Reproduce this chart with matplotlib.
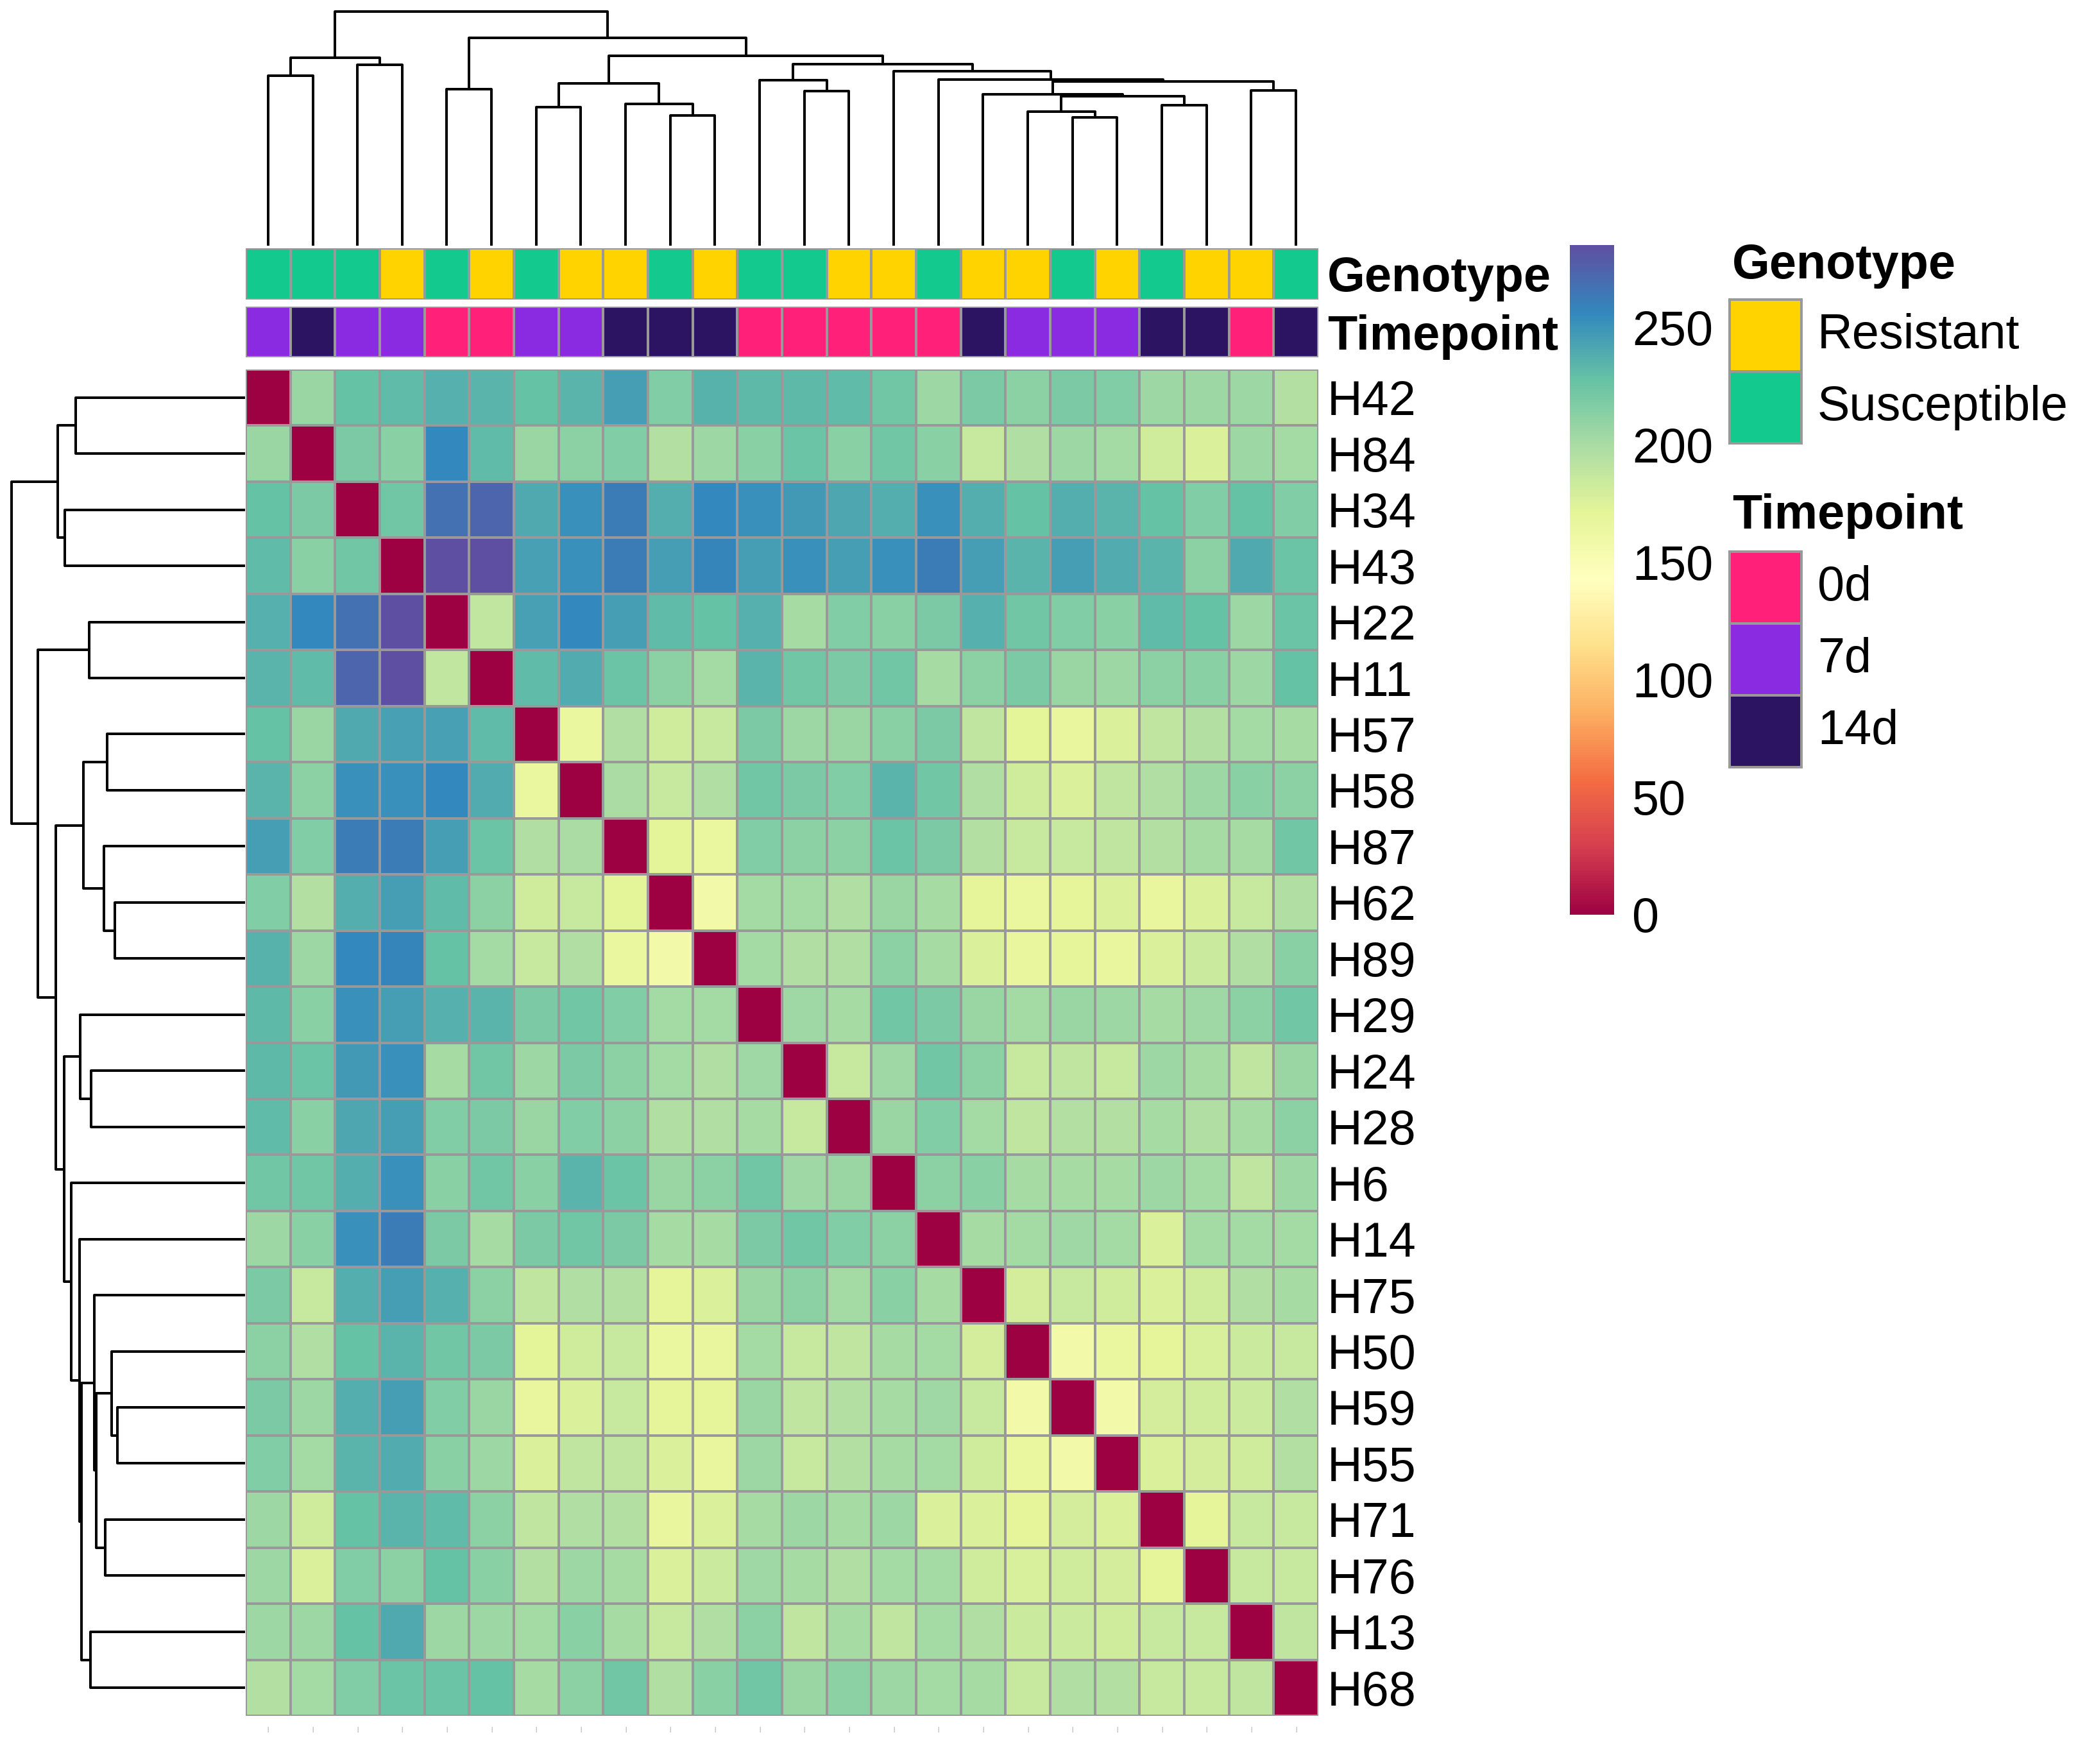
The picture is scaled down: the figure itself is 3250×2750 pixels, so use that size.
import matplotlib
matplotlib.use("Agg")
import matplotlib.pyplot as plt
import numpy as np
from matplotlib.colors import ListedColormap
from matplotlib.patches import Rectangle

plt.rcParams['font.family'] = ['Liberation Sans', 'DejaVu Sans']

# Amostras na ordem do agrupamento
samples = ['H42', 'H84', 'H34', 'H43', 'H22', 'H11', 'H57', 'H58', 'H87', 'H62',
           'H89', 'H29', 'H24', 'H28', 'H6', 'H14', 'H75', 'H50', 'H59', 'H55',
           'H71', 'H76', 'H13', 'H68']

genotype = ['Susceptible', 'Susceptible', 'Susceptible', 'Resistant', 'Susceptible',
            'Resistant', 'Susceptible', 'Resistant', 'Resistant', 'Susceptible',
            'Resistant', 'Susceptible', 'Susceptible', 'Resistant', 'Resistant',
            'Susceptible', 'Resistant', 'Resistant', 'Susceptible', 'Resistant',
            'Susceptible', 'Resistant', 'Resistant', 'Susceptible']

timepoint = ['7d', '14d', '7d', '7d', '0d', '0d', '7d', '7d', '14d', '14d', '14d', '0d',
             '0d', '0d', '0d', '0d', '14d', '7d', '7d', '7d', '14d', '14d', '0d', '14d']

geno_levels = ['Resistant', 'Susceptible']
geno_colors = ['#FFD300', '#14C98E']
time_levels = ['0d', '7d', '14d']
time_colors = ['#FF2079', '#8A2BE2', '#2D1463']

# Triangulo superior da matriz de distancias (linha i, colunas i+1..23)
dist_upper = [
    [207, 228, 231, 237, 234, 228, 234, 246, 217, 235, 232, 232, 231, 223, 205, 219, 212, 219, 216, 205, 205, 205, 195],
    [219, 213, 255, 231, 207, 212, 217, 195, 205, 213, 225, 213, 223, 213, 187, 197, 205, 202, 182, 176, 205, 202],
    [223, 268, 273, 240, 252, 262, 238, 256, 252, 248, 241, 238, 252, 238, 228, 238, 234, 228, 217, 228, 217],
    [285, 285, 244, 252, 262, 246, 258, 246, 252, 245, 252, 262, 246, 234, 246, 239, 234, 212, 240, 225],
    [189, 244, 255, 246, 231, 228, 237, 201, 217, 213, 219, 237, 223, 217, 213, 231, 228, 205, 225],
    [231, 239, 225, 212, 202, 234, 223, 219, 223, 201, 212, 219, 207, 205, 212, 213, 205, 228],
    [166, 197, 182, 186, 219, 205, 207, 213, 219, 190, 172, 168, 176, 190, 195, 202, 201],
    [200, 187, 197, 223, 219, 217, 234, 223, 197, 182, 176, 190, 197, 205, 213, 212],
    [172, 166, 217, 212, 212, 225, 219, 195, 187, 186, 190, 195, 201, 201, 223],
    [158, 202, 202, 197, 207, 201, 170, 166, 170, 176, 168, 176, 187, 197],
    [202, 197, 197, 212, 201, 176, 168, 170, 168, 176, 184, 197, 213],
    [204, 201, 223, 219, 207, 202, 207, 205, 201, 204, 212, 223],
    [187, 204, 223, 212, 187, 190, 187, 205, 201, 190, 207],
    [207, 216, 202, 190, 195, 195, 201, 197, 201, 212],
    [212, 213, 201, 201, 201, 205, 202, 190, 205],
    [201, 202, 204, 202, 176, 202, 202, 202],
    [180, 186, 182, 176, 182, 197, 201],
    [158, 166, 170, 178, 184, 187],
    [158, 180, 182, 184, 197],
    [176, 180, 182, 195],
    [170, 187, 187],
    [187, 187],
    [190],
]

# Fusoes do agrupamento: (esquerda, direita, altura); folhas 0..23, novos nos 24..
merges = [
    (0, 1, 712), (2, 3, 757), (24, 25, 787), (4, 5, 654), (6, 7, 578),
    (9, 10, 545), (8, 29, 592), (28, 30, 678), (12, 13, 646), (11, 32, 692),
    (18, 19, 535), (17, 34, 560), (20, 21, 587), (35, 36, 625), (16, 37, 632),
    (22, 23, 648), (38, 39, 687), (15, 40, 695), (14, 41, 730), (33, 42, 760),
    (31, 43, 794), (27, 44, 872), (26, 45, 982),
]

n = len(samples)
dist = np.zeros((n, n))
for i, row in enumerate(dist_upper):
    dist[i, i + 1:] = row
    dist[i + 1:, i] = row

W, H = 3250, 2750
fig = plt.figure(figsize=(13, 11), dpi=250)


def add_ax(x0, y0, x1, y1):
    # caixa em pixels (origem no topo)
    return fig.add_axes([x0 / W, 1 - y1 / H, (x1 - x0) / W, (y1 - y0) / H])


FS = 21.8
GRID = '#999999'
LW = 1.15
hm_x0, hm_x1, hm_y0, hm_y1 = 383, 2055, 576, 2675

# Heatmap
ax = add_ax(hm_x0, hm_y0, hm_x1, hm_y1)
mesh = ax.pcolormesh(dist, cmap='Spectral', vmin=0, vmax=dist.max(),
                     edgecolors=GRID, linewidth=LW)
ax.set_xlim(0, n)
ax.set_ylim(n, 0)
for s in ax.spines.values():
    s.set_visible(False)
ax.yaxis.tick_right()
ax.set_yticks(np.arange(n) + 0.5)
ax.set_yticklabels(samples, fontsize=FS)
ax.tick_params(axis='y', length=0, pad=4)
ax.set_xticks(np.arange(n) + 0.5)
ax.set_xticklabels(['|'] * n, fontsize=2.5, color='#9090a0')
ax.tick_params(axis='x', length=0, pad=5)

# Anotacoes de coluna
annots = [('Genotype', genotype, geno_levels, geno_colors, 387, 467),
          ('Timepoint', timepoint, time_levels, time_colors, 478, 557)]
for name, vals, levels, cols, y0, y1 in annots:
    axa = add_ax(hm_x0, y0, hm_x1, y1)
    codes = np.array([[levels.index(v) for v in vals]])
    axa.pcolormesh(codes, cmap=ListedColormap(cols), vmin=-0.5, vmax=len(cols) - 0.5,
                   edgecolors=GRID, linewidth=LW)
    axa.set_xlim(0, n)
    axa.set_ylim(1, 0)
    for s in axa.spines.values():
        s.set_visible(False)
    axa.set_xticks([])
    axa.yaxis.tick_right()
    axa.set_yticks([0.5])
    axa.set_yticklabels([name], fontsize=FS, fontweight='bold')
    axa.tick_params(axis='y', length=0, pad=4)


def draw_dendro(axd, orient):
    pos = {i: i + 0.5 for i in range(n)}
    hgt = {i: 0.0 for i in range(n)}
    node = n
    for a, b, h in merges:
        xs = [pos[a], pos[a], pos[b], pos[b]]
        ys = [hgt[a], h, h, hgt[b]]
        if orient == 'top':
            axd.plot(xs, ys, color='black', lw=LW, clip_on=False)
        else:
            axd.plot(ys, xs, color='black', lw=LW, clip_on=False)
        pos[node] = (pos[a] + pos[b]) / 2
        hgt[node] = h
        node += 1
    top = max(m[2] for m in merges)
    if orient == 'top':
        axd.set_xlim(0, n)
        axd.set_ylim(0, top)
    else:
        axd.set_ylim(n, 0)
        axd.set_xlim(top, 0)
    axd.axis('off')


draw_dendro(add_ax(hm_x0, 18, hm_x1, 381), 'top')
draw_dendro(add_ax(18, hm_y0, 380, hm_y1), 'left')

# Barra de cores
cax = add_ax(2447, 382, 2516, 1426)
cb = fig.colorbar(mesh, cax=cax, ticks=[0, 50, 100, 150, 200, 250])
cb.outline.set_visible(False)
cax.tick_params(length=0, labelsize=FS, pad=8)

# Legendas das anotacoes
lg = fig.add_axes([0, 0, 1, 1])
lg.set_xlim(0, W)
lg.set_ylim(H, 0)
lg.axis('off')
legend_blocks = [('Genotype', geno_levels, geno_colors, 414, 467),
                 ('Timepoint', time_levels, time_colors, 804, 860)]
box_w, box_h = 112, 112
for title, levels, cols, ty, by in legend_blocks:
    lg.text(2700, ty, title, fontsize=FS, fontweight='bold', ha='left', va='center')
    for k, (lab, c) in enumerate(zip(levels, cols)):
        y = by + k * box_h
        lg.add_patch(Rectangle((2696, y), box_w, box_h, facecolor=c,
                               edgecolor=GRID, lw=LW))
        lg.text(2833, y + box_h / 2, lab, fontsize=FS, ha='left', va='center')

fig.savefig('out.png', dpi=250)
